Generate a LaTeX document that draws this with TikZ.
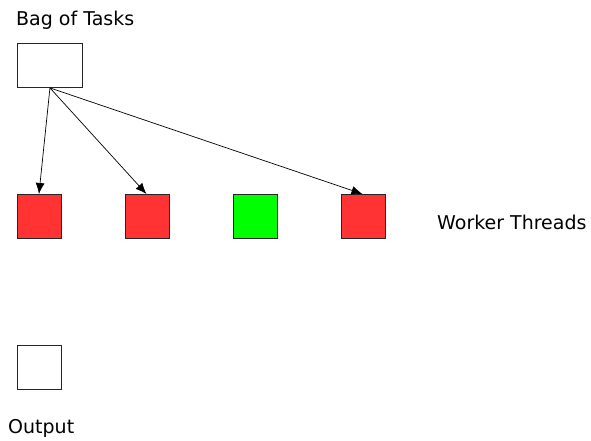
\documentclass[tikz,border=0pt]{standalone}
\usepackage{fontspec}
\setmainfont{DejaVu Sans}
\usetikzlibrary{arrows.meta}
\begin{document}
\begin{tikzpicture}[x=1pt,y=-1pt,
  box/.style={draw=black!85,line width=0.9pt,inner sep=0pt,minimum width=44pt,minimum height=44pt,anchor=north west},
  lbl/.style={font=\fontsize{19}{22}\selectfont,inner sep=0pt,anchor=base west},
  arr/.style={-{Latex[length=11pt,width=9pt]},line width=0.7pt}]
\useasboundingbox (0,0) rectangle (591,440);
\node[box,minimum width=65pt] (bag) at (17,43) {};
\node[box,fill={rgb,255:red,255;green,51;blue,51}] (w1) at (17,194) {};
\node[box,fill={rgb,255:red,255;green,51;blue,51}] (w2) at (125,194) {};
\node[box,fill={rgb,255:red,0;green,255;blue,0}] (w3) at (233,194) {};
\node[box,fill={rgb,255:red,255;green,51;blue,51}] (w4) at (341,194) {};
\node[box] (out) at (17,345) {};
\node[lbl] (tbag) at (16,25) {Bag of Tasks};
\node[lbl] (twork) at (437,229) {Worker Threads};
\node[lbl] (tout) at (8,433) {Output};
\draw[arr] (bag.south) -- ([xshift=-0.5pt]w1.north);
\draw[arr] (bag.south) -- ([xshift=-1pt]w2.north);
\draw[arr] (bag.south) -- ([xshift=-1pt]w4.north);
\end{tikzpicture}
\end{document}
